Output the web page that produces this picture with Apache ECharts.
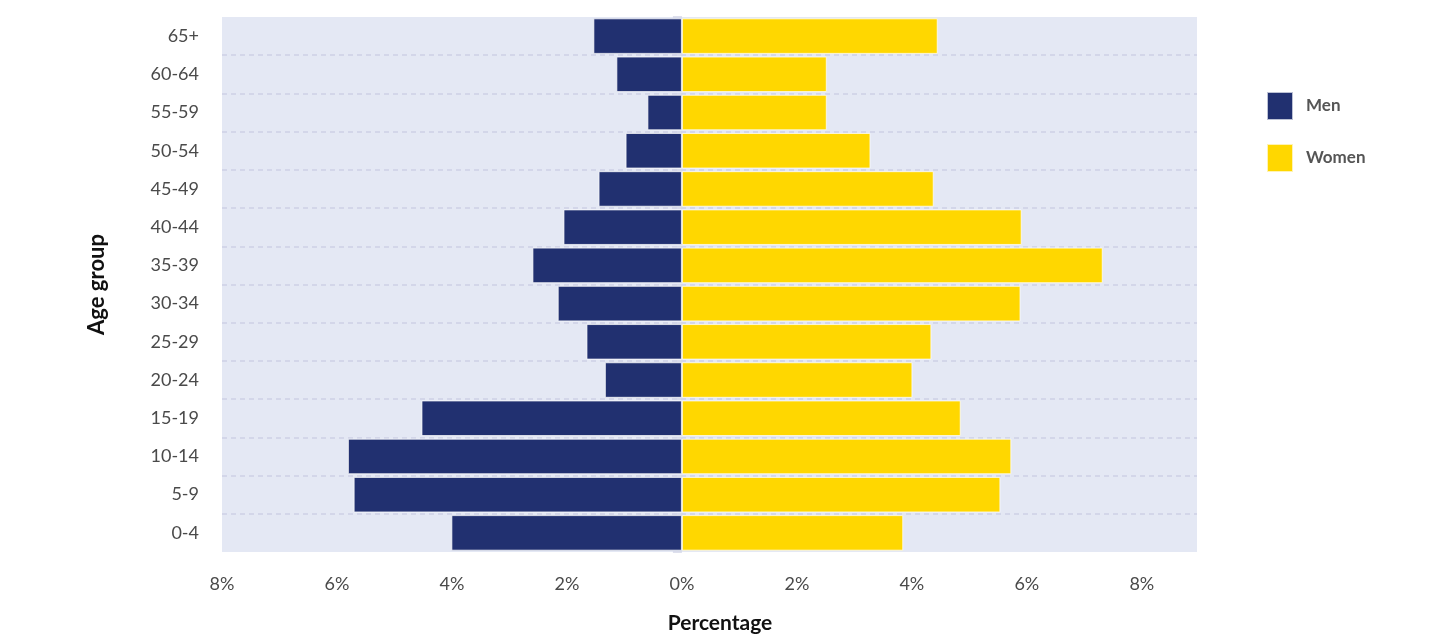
<!DOCTYPE html>
<html>
<head>
<meta charset="utf-8">
<script src="https://cdn.jsdelivr.net/npm/echarts@6/dist/echarts.min.js"></script>
<style>
  html, body { margin: 0; padding: 0; background: #ffffff; }
  #chart { width: 1453px; height: 639px; }
</style>
</head>
<body>
<div id="chart"></div>
<script>
// Age groups, bottom to top
const ageGroups = ['0-4', '5-9', '10-14', '15-19', '20-24', '25-29', '30-34',
                   '35-39', '40-44', '45-49', '50-54', '55-59', '60-64', '65+'];
// Share of population (%) per age group
const menShare   = [4.01, 5.71, 5.81, 4.53, 1.34, 1.66, 2.16, 2.60, 2.06, 1.45, 0.98, 0.60, 1.14, 1.54];
const womenShare = [3.85, 5.54, 5.73, 4.85, 4.01, 4.34, 5.89, 7.32, 5.91, 4.38, 3.28, 2.52, 2.52, 4.45];
const seriesNames = ['Men', 'Women'];

const FONT = 'Lato, "Open Sans", sans-serif';

const chart = echarts.init(document.getElementById('chart'), null, { renderer: 'canvas' });

chart.setOption({
  animation: false,
  textStyle: { fontFamily: FONT },
  grid: {
    left: 222, right: 256, top: 17, bottom: 87,
    outerBoundsMode: 'none',
    containLabel: false,
    show: true, backgroundColor: '#E4E8F4', borderWidth: 0
  },
  legend: {
    orient: 'vertical',
    left: 1266, top: 91,
    padding: 0,
    itemWidth: 26, itemHeight: 28, itemGap: 22,
    icon: 'rect',
    data: seriesNames,
    textStyle: { fontFamily: FONT, fontSize: 17, fontWeight: 'bold', color: '#555555', padding: [0, 0, 0, 8] }
  },
  xAxis: {
    type: 'value',
    min: -8, max: 8.96, interval: 2,
    name: 'Percentage',
    nameLocation: 'middle',
    nameGap: 61,
    nameTextStyle: { fontFamily: FONT, fontSize: 21, fontWeight: 'bold', color: '#111111', padding: [0, 0, 0, 21] },
    axisLine: { show: false },
    axisTick: { show: false },
    splitLine: { show: false },
    axisLabel: {
      margin: 23,
      fontSize: 18,
      color: '#4a4a4a',
      formatter: v => (v > 8 ? '' : Math.abs(v) + '%')
    }
  },
  yAxis: {
    type: 'category',
    data: ageGroups,
    name: 'Age group',
    nameLocation: 'middle',
    nameRotate: 90,
    nameGap: 114,
    nameTextStyle: { fontFamily: FONT, fontSize: 22, fontWeight: 'bold', color: '#111111' },
    axisLine: { show: false },
    axisTick: { show: true, length: 9, lineStyle: { color: '#D3D6E8', width: 1.5 } },
    axisLabel: { margin: 23, fontSize: 18, color: '#4a4a4a' },
    splitLine: {
      show: true,
      showMinLine: false,
      showMaxLine: false,
      lineStyle: { color: '#CDD0E5', width: 1.5, type: [5, 4] }
    }
  },
  series: [
    {
      name: seriesNames[0],
      type: 'bar',
      stack: 'pop',
      barCategoryGap: '7%',
      itemStyle: { color: '#213070', borderColor: 'rgba(255,255,255,0.7)', borderWidth: 1 },
      data: menShare.map(v => -v)
    },
    {
      name: seriesNames[1],
      type: 'bar',
      stack: 'pop',
      barCategoryGap: '7%',
      itemStyle: { color: '#FFD700', borderColor: 'rgba(255,255,255,0.7)', borderWidth: 1 },
      data: womenShare
    }
  ]
});
</script>
</body>
</html>
